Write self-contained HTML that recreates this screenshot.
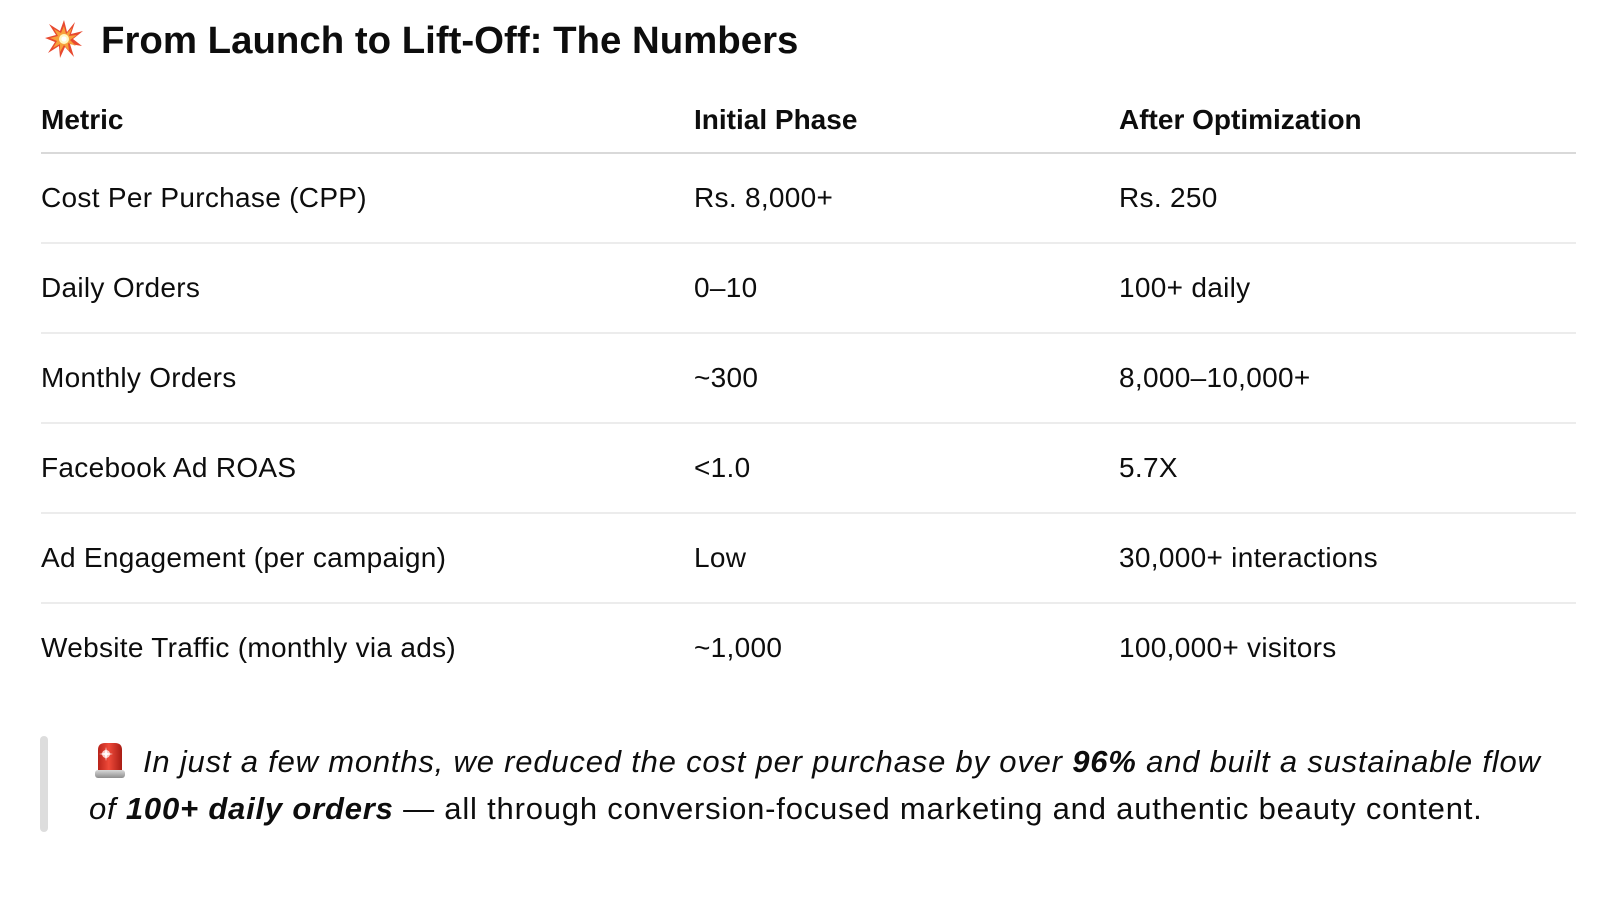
<!DOCTYPE html>
<html>
<head>
<meta charset="utf-8">
<style>
  html, body { margin:0; padding:0; background:#ffffff; }
  body { width:1616px; height:914px; position:relative; overflow:hidden;
         font-family:"Liberation Sans", Arial, sans-serif; color:#0d0d0d; }
  .abs { position:absolute; white-space:nowrap; }
  .title { left:101px; top:21.5px; font-size:38.4px; line-height:38.4px; font-weight:bold; }
  .th { font-size:28px; line-height:28px; font-weight:bold; top:106.3px; }
  .td { font-size:28px; line-height:28px; letter-spacing:0.3px; }
  .hline { position:absolute; left:41px; width:1535px; }
  .bq { font-size:31px; line-height:31px; font-style:italic; letter-spacing:0.8px; }
  .bq .n { font-style:normal; }
</style>
</head>
<body>

<!-- collision emoji -->
<svg class="abs" style="left:44px;top:19px" width="40" height="40" viewBox="0 0 40 40">
  <polygon points="20,1 23,13 31,3 27,15 39,12 29,20 38,27 26,25 30,38 21,28 16,39 15,27 4,34 11,23 1,19 12,16 5,5 16,12"
           fill="#e8492f"/>
  <polygon points="20,7 22,15 28,9 25,17 33,16 26,21 32,27 24,24 25,32 20,26 16,33 16,25 9,29 13,22 6,19 14,17 10,10 17,14"
           fill="#f7a13a"/>
  <circle cx="20" cy="20" r="5" fill="#fff7c2"/>
  <circle cx="20" cy="20" r="2.6" fill="#ffffff"/>
</svg>
<div class="abs title">From Launch to Lift-Off: The Numbers</div>

<!-- table header -->
<div class="abs th" style="left:41px">Metric</div>
<div class="abs th" style="left:694px">Initial Phase</div>
<div class="abs th" style="left:1119px">After Optimization</div>
<div class="hline" style="top:152px;height:2px;background:#d9d9d9"></div>

<!-- rows -->
<div class="abs td" style="left:41px;top:184.3px">Cost Per Purchase (CPP)</div>
<div class="abs td" style="left:694px;top:184.3px">Rs. 8,000+</div>
<div class="abs td" style="left:1119px;top:184.3px">Rs. 250</div>
<div class="hline" style="top:242px;height:1.5px;background:#ececec"></div>

<div class="abs td" style="left:41px;top:274.3px">Daily Orders</div>
<div class="abs td" style="left:694px;top:274.3px">0–10</div>
<div class="abs td" style="left:1119px;top:274.3px">100+ daily</div>
<div class="hline" style="top:332px;height:1.5px;background:#ececec"></div>

<div class="abs td" style="left:41px;top:364.3px">Monthly Orders</div>
<div class="abs td" style="left:694px;top:364.3px">~300</div>
<div class="abs td" style="left:1119px;top:364.3px">8,000–10,000+</div>
<div class="hline" style="top:422px;height:1.5px;background:#ececec"></div>

<div class="abs td" style="left:41px;top:454.3px">Facebook Ad ROAS</div>
<div class="abs td" style="left:694px;top:454.3px">&lt;1.0</div>
<div class="abs td" style="left:1119px;top:454.3px">5.7X</div>
<div class="hline" style="top:512px;height:1.5px;background:#ececec"></div>

<div class="abs td" style="left:41px;top:544.3px">Ad Engagement (per campaign)</div>
<div class="abs td" style="left:694px;top:544.3px">Low</div>
<div class="abs td" style="left:1119px;top:544.3px">30,000+ interactions</div>
<div class="hline" style="top:602px;height:1.5px;background:#ececec"></div>

<div class="abs td" style="left:41px;top:634.3px">Website Traffic (monthly via ads)</div>
<div class="abs td" style="left:694px;top:634.3px">~1,000</div>
<div class="abs td" style="left:1119px;top:634.3px">100,000+ visitors</div>

<!-- blockquote -->
<div class="abs" style="left:40px;top:736px;width:8px;height:96px;border-radius:4px;background:#dddddd"></div>

<!-- siren emoji -->
<svg class="abs" style="left:94px;top:741px" width="32" height="39" viewBox="0 0 32 39">
  <defs>
    <linearGradient id="dome" x1="0" y1="0" x2="1" y2="0">
      <stop offset="0" stop-color="#b8231a"/>
      <stop offset="0.45" stop-color="#ef4a3a"/>
      <stop offset="1" stop-color="#a81c14"/>
    </linearGradient>
    <linearGradient id="base" x1="0" y1="0" x2="0" y2="1">
      <stop offset="0" stop-color="#d9d9d9"/>
      <stop offset="1" stop-color="#8e8e8e"/>
    </linearGradient>
  </defs>
  <path d="M4,30 L4,9 Q4,2 11,2 L21,2 Q28,2 28,9 L28,30 Z" fill="url(#dome)"/>
  <rect x="1" y="29" width="30" height="8" rx="3" fill="url(#base)"/>
  <circle cx="12" cy="13" r="4" fill="#ffd9d4" opacity="0.9"/>
  <path d="M12,6 L13,12 L19,13 L13,14 L12,20 L11,14 L5,13 L11,12 Z" fill="#ffffff"/>
</svg>

<div class="abs bq" style="left:143px;top:745.5px">In just a few months, we reduced the cost per purchase by over <b class="n" style="font-style:italic">96%</b> and built a sustainable flow</div>
<div class="abs bq" style="left:89px;top:792.8px">of <b>100+ daily orders</b> <span class="n">— all through conversion-focused marketing and authentic beauty content.</span></div>

</body>
</html>
